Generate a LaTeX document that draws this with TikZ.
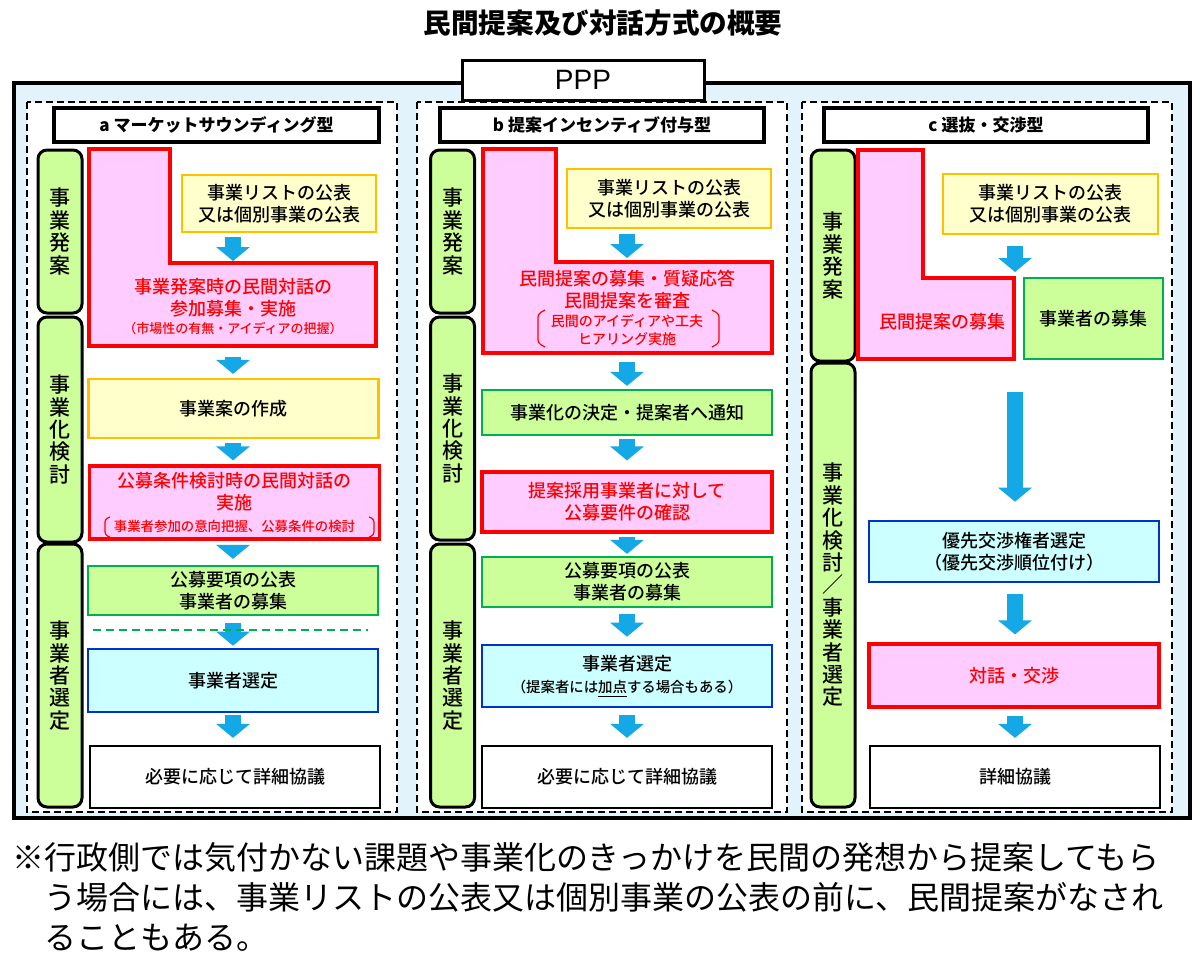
\documentclass[tikz,border=0pt]{standalone}
\usepackage{fontspec}
\setmainfont{Noto Sans CJK JP}
\newfontfamily\jpmid{Noto Sans CJK JP Medium}
\newfontfamily\latinfont{Liberation Sans}
\usepackage{xcolor}
\usepackage{tikz}
\usetikzlibrary{arrows.meta,calc,positioning}
\definecolor{frameblue}{RGB}{226,243,252}
\definecolor{pinkfill}{RGB}{255,204,255}
\definecolor{yellowfill}{RGB}{255,255,204}
\definecolor{yellowline}{RGB}{255,192,0}
\definecolor{greenfill}{RGB}{204,255,153}
\definecolor{greenline}{RGB}{0,176,80}
\definecolor{cyanfill}{RGB}{204,255,255}
\definecolor{blueline}{RGB}{0,51,204}
\definecolor{arrowblue}{RGB}{20,168,230}
\tikzset{
  box/.style={rectangle, draw, line width=1.1pt, inner sep=0pt, align=center, minimum width=145pt, font=\jpmid\fontsize{9}{11}\selectfont},
  y_box/.style={box, draw=yellowline, fill=yellowfill},
  g_box/.style={box, draw=greenline, fill=greenfill},
  p_box/.style={box, draw=red, fill=pinkfill, text=red, line width=1.6pt},
  c_box/.style={box, draw=blueline, fill=cyanfill, line width=1.3pt},
  w_box/.style={box, draw=black, fill=white},
  head_box/.style={rectangle, draw, line width=1.75pt, fill=white, inner sep=0pt, minimum height=17pt, font=\bfseries\fontsize{8.5}{10}\selectfont},
  stage_box/.style={rectangle, rounded corners=4.5pt, draw, line width=1.5pt, fill=greenfill, inner sep=0pt, minimum width=22pt, align=center, font=\jpmid\fontsize{10.5}{11.2}\selectfont},
  l_shape/.style={draw=red, line width=1.6pt, fill=pinkfill},
  l_text/.style={text=red, align=center, inner sep=0pt, font=\jpmid\fontsize{9}{11}\selectfont},
  l_note/.style={text=red, align=center, inner sep=0pt},
  bracket/.style={draw=red, line width=0.6pt, rounded corners=1.5pt},
  panel/.style={draw, line width=0.8pt, dash pattern=on 3.5pt off 2pt, fill=white},
  flow/.style={draw=arrowblue, line width=8pt, -{Triangle[width=16.5pt,length=7pt]}}
}

\begin{document}
\begin{tikzpicture}[x=0.5pt, y=-0.5pt]
\useasboundingbox (0,0) rectangle (1200,960);
\node[inner sep=0pt, font=\bfseries\fontsize{13.8}{16}\selectfont] (title) at (603,23) {民間提案及び対話方式の概要};

% frame and panels
\draw[line width=1.75pt, fill=frameblue] (14,83) rectangle (1190,818);
\draw[panel] (27,102) rectangle (397,812);
\draw[panel] (417,102) rectangle (787,812);
\draw[panel] (802,102) rectangle (1172,812);
\node[draw, line width=1.5pt, fill=white, minimum width=121pt, minimum height=20pt, inner sep=0pt, font=\latinfont\fontsize{14}{16}\selectfont] (ppp) at (583,80) {PPP};

% a
\node[head_box, minimum width=162.5pt] (head_a) at (216.5,125) {a マーケットサウンディング型};
\node[stage_box, minimum height=81.5pt] (st1_a) at (60,231.5) {事\\業\\発\\案};
\node[stage_box, minimum height=112.5pt] (st2_a) at (60,429.5) {事\\業\\化\\検\\討};
\node[stage_box, minimum height=131.5pt] (st3_a) at (60,675.5) {事\\業\\者\\選\\定};
\draw[l_shape] (89,149) -- (170,149) -- (170,263) -- (376,263) -- (376,346) -- (89,346) -- cycle;
\coordinate (step_a) at (170,263);
\coordinate (foot_a) at (89,346);
\coordinate (axis_a) at (233,0);
\node[y_box, minimum width=97pt, minimum height=28.5pt] (list_a) at (279,203.5) {事業リストの公表\\又は個別事業の公表};
\node[l_text] (dial_a) at (233,297.5) {事業発案時の民間対話の\\参加募集・実施};
\node[l_note, font=\jpmid\fontsize{6.5}{8}\selectfont] (dial_note_a) at (233,329) {（市場性の有無・アイディアの把握）};
\node[y_box, minimum height=29.5pt] (plan_a) at (233.5,408.5) {事業案の作成};
\node[p_box, minimum height=36.5pt] (cond_a) at (234.5,502.5) {公募条件検討時の民間対話の\\実施\\{\fontsize{6.7}{11}\selectfont 事業者参加の意向把握、公募条件の検討}};
\draw[bracket] (110,517) -- (105,519) -- (105,535) -- (110,537);
\draw[bracket] (369,517) -- (374,519) -- (374,535) -- (369,537);
\node[g_box, minimum height=24.5pt] (call_a) at (233,590.5) {公募要項の公表\\事業者の募集};
\node[c_box, minimum height=31.5pt] (sel_a) at (233,680.5) {事業者選定};
\node[w_box, minimum height=31pt] (talk_a) at (235,777) {必要に応じて詳細協議};
\draw[flow, shorten <=2pt, shorten >=1pt] (list_a.south -| axis_a) -- (step_a -| axis_a);
\draw[flow, shorten <=5.5pt, shorten >=2pt] (foot_a -| axis_a) -- (plan_a.north -| axis_a);
\draw[flow, shorten <=2pt, shorten >=2pt] (plan_a.south -| axis_a) -- (cond_a.north -| axis_a);
\draw[flow, shorten <=3pt, shorten >=3pt] (cond_a.south -| axis_a) -- (call_a.north -| axis_a);
\draw[flow, shorten <=3.5pt, shorten >=1pt] (call_a.south -| axis_a) -- (sel_a.north -| axis_a);
\draw[flow, shorten <=1pt, shorten >=3.5pt] (sel_a.south -| axis_a) -- (talk_a.north -| axis_a);
\draw[greenline, line width=0.75pt, dash pattern=on 4pt off 2.5pt] ($(call_a.south west)+(6,14)$) -- ($(call_a.south east)+(-11,14)$);

% b
\node[head_box, minimum width=162pt] (head_b) at (602,125) {b 提案インセンティブ付与型};
\node[stage_box, minimum height=81.5pt] (st1_b) at (452.5,231.5) {事\\業\\発\\案};
\node[stage_box, minimum height=111.5pt] (st2_b) at (452.5,428.5) {事\\業\\化\\検\\討};
\node[stage_box, minimum height=131.5pt] (st3_b) at (452.5,675.5) {事\\業\\者\\選\\定};
\draw[l_shape] (483,149) -- (556,149) -- (556,262) -- (772,262) -- (772,353) -- (483,353) -- cycle;
\coordinate (step_b) at (556,262);
\coordinate (foot_b) at (483,353);
\coordinate (axis_b) at (627,0);
\node[y_box, minimum width=102pt, minimum height=29.5pt] (list_b) at (669,198.5) {事業リストの公表\\又は個別事業の公表};
\node[l_text] (dial_b) at (627,290) {民間提案の募集・質疑応答\\民間提案を審査};
\node[l_note, font=\jpmid\fontsize{7}{9}\selectfont] (dial_note_b) at (627,330) {民間のアイディアや工夫\\ヒアリング実施};
\draw[bracket] (545,310) -- (538,314) -- (538,343) -- (545,347);
\draw[bracket] (712,310) -- (719,314) -- (719,343) -- (712,347);
\node[g_box, minimum height=22.5pt] (dec_b) at (627,412.5) {事業化の決定・提案者へ通知};
\node[p_box, minimum height=30pt] (req_b) at (627,502) {提案採用事業者に対して\\公募要件の確認};
\node[g_box, minimum height=25pt] (call_b) at (627,582) {公募要項の公表\\事業者の募集};
\node[c_box, minimum height=31pt] (sel_b) at (627,676) {事業者選定\\{\fontsize{7.2}{10}\selectfont （提案者には\underline{加点}する場合もある）}};
\node[w_box, minimum height=31pt] (talk_b) at (627,777) {必要に応じて詳細協議};
\draw[flow, shorten <=2.5pt, shorten >=2pt] (list_b.south -| axis_b) -- (step_b -| axis_b);
\draw[flow, shorten <=4.5pt, shorten >=1.5pt] (foot_b -| axis_b) -- (dec_b.north -| axis_b);
\draw[flow, shorten <=1.5pt, shorten >=5pt] (dec_b.south -| axis_b) -- (req_b.north -| axis_b);
\draw[flow, shorten <=1.5pt, shorten >=1pt] (req_b.south -| axis_b) -- (call_b.north -| axis_b);
\draw[flow, shorten <=3pt, shorten >=3.5pt] (call_b.south -| axis_b) -- (sel_b.north -| axis_b);
\draw[flow, shorten <=3.5pt, shorten >=3.5pt] (sel_b.south -| axis_b) -- (talk_b.north -| axis_b);

% c
\node[head_box, minimum width=162pt] (head_c) at (986,125) {c 選抜・交渉型};
\node[stage_box, minimum height=105.5pt] (st1_c) at (833,255.5) {事\\業\\発\\案};
\node[stage_box, minimum height=222pt] (st2_c) at (833,585) {事\\業\\化\\検\\討\\／\\事\\業\\者\\選\\定};
\draw[l_shape] (858,150) -- (923,150) -- (923,278) -- (1014,278) -- (1014,359) -- (858,359) -- cycle;
\coordinate (step_c) at (1015,278);
\coordinate (foot_c) at (858,359);
\coordinate (axis_c) at (1015,0);
\node[y_box, minimum width=107.5pt, minimum height=30pt] (list_c) at (1050.5,204) {事業リストの公表\\又は個別事業の公表};
\node[l_text] (dial_c) at (942,322) {民間提案の募集};
\node[g_box, minimum width=69.5pt, minimum height=40.5pt] (call_c) at (1093.5,318.5) {事業者の募集};
\node[c_box, minimum height=30.5pt] (pri_c) at (1014,551.5) {優先交渉権者選定\\（優先交渉順位付け）};
\node[p_box, minimum height=31.5pt] (neg_c) at (1014,675.5) {対話・交渉};
\node[w_box, minimum height=31pt] (talk_c) at (1015,777) {詳細協議};
\draw[flow, shorten <=5.5pt, shorten >=3pt] (list_c.south -| axis_c) -- (step_c);
\draw[flow, shorten <=16.5pt, shorten >=9pt] (foot_c -| axis_c) -- (pri_c.north -| axis_c);
\draw[flow, shorten <=5.5pt, shorten >=4pt] (pri_c.south -| axis_c) -- (neg_c.north -| axis_c);
\draw[flow, shorten <=3.5pt, shorten >=3.5pt] (neg_c.south -| axis_c) -- (talk_c.north -| axis_c);

% note
\node[anchor=north west, align=left, inner sep=0pt, font=\fontsize{16}{20}\selectfont] (note) at (12,842) {※行政側では気付かない課題や事業化のきっかけを民間の発想から提案してもら\\\hspace*{1em}う場合には、事業リストの公表又は個別事業の公表の前に、民間提案がなされ\\\hspace*{1em}ることもある。};
\end{tikzpicture}
\end{document}
